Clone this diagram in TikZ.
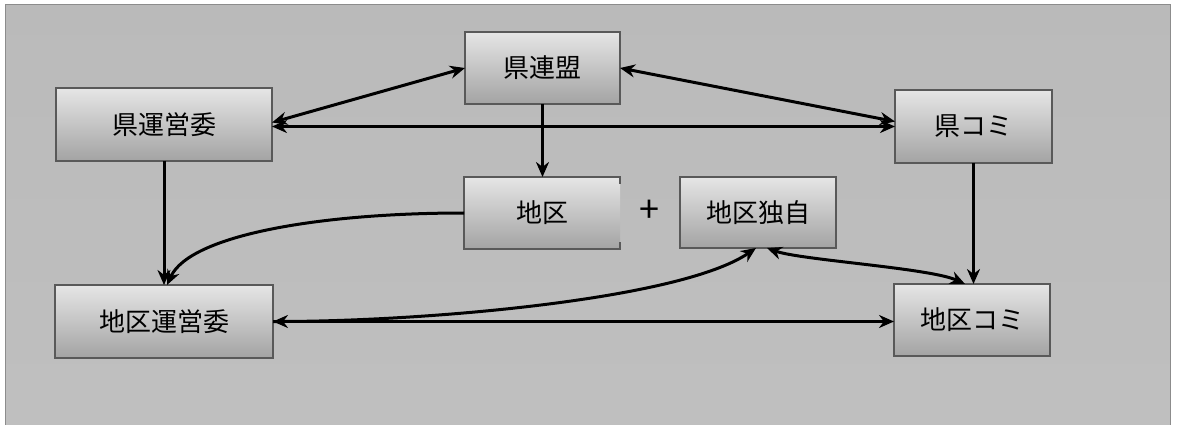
\documentclass[tikz,border=0pt]{standalone}
\usepackage{fontspec}
\newfontfamily\jp{Noto Sans CJK JP}
\usetikzlibrary{arrows.meta}
\begin{document}
\begin{tikzpicture}[x=1pt,y=-1pt,
  box/.style={draw=black!65, line width=1.3pt, top color=black!10, bottom color=black!36,
    inner sep=0pt, outer sep=0pt, font=\jp\fontsize{26}{30}\selectfont},
  tipa/.tip={Stealth[length=15pt,width=13pt]},
  both/.style={line width=3pt, black, tipa-tipa},
  one/.style={line width=3pt, black, -tipa}]
\useasboundingbox (0,0) rectangle (1179,425);
\fill[white] (0,0) rectangle (1179,425);
\shade[top color=black!27, middle color=black!12, bottom color=black!25] (5,5) rectangle (1170,425);
\draw[black!45, line width=1pt] (5,425) -- (5,5) -- (1170,5) -- (1170,425);

\node[box, minimum width=155pt, minimum height=72pt] (kr) at (542.5,68) {県連盟};
\node[box, minimum width=216pt, minimum height=73pt] (ku) at (164,124.5) {県運営委};
\node[box, minimum width=157pt, minimum height=73pt] (kc) at (973.5,126.5) {県コミ};
\node[box, draw=none, minimum width=156pt, minimum height=72pt] (ch) at (542,213) {地区};
\draw[black!65, line width=1.3pt] ([yshift=-7pt]ch.north east) -- (ch.north east) -- (ch.north west)
  -- (ch.south west) -- (ch.south east) -- ([yshift=7pt]ch.south east);
\node[font=\jp\fontsize{36}{40}\selectfont, inner sep=0pt] (plus) at (649,211) {+};
\node[box, minimum width=156pt, minimum height=71pt] (cd) at (758,212.5) {地区独自};
\node[box, minimum width=218pt, minimum height=73pt] (cu) at (164,321.5) {地区運営委};
\node[box, minimum width=156pt, minimum height=72pt] (cc) at (972,320) {地区コミ};

\draw[both] (kr.west) -- ([yshift=2pt]ku.east);
\draw[both] (ku.east |- kc.west) -- (kc.west);
\draw[both] (kr.east) -- ([yshift=5pt]kc.west);
\draw[one] (kr.south) -- (kr.south |- ch.north);
\draw[one] (ku.south) -- (cu.north);
\draw[one] (ch.west) .. controls (320,213) and (190,235) .. ([xshift=3pt]cu.north);
\draw[both] (cu.east) -- (cu.east -| cc.west);
\draw[one] (cu.east) .. controls (420,322) and (680,300) .. ([xshift=-2pt]cd.south);
\draw[both] ([xshift=9pt]cd.south) .. controls (800,260) and (930,268) .. ([xshift=-7pt]cc.north);
\draw[one] (kc.south) -- (kc.south |- cc.north);
\end{tikzpicture}
\end{document}
